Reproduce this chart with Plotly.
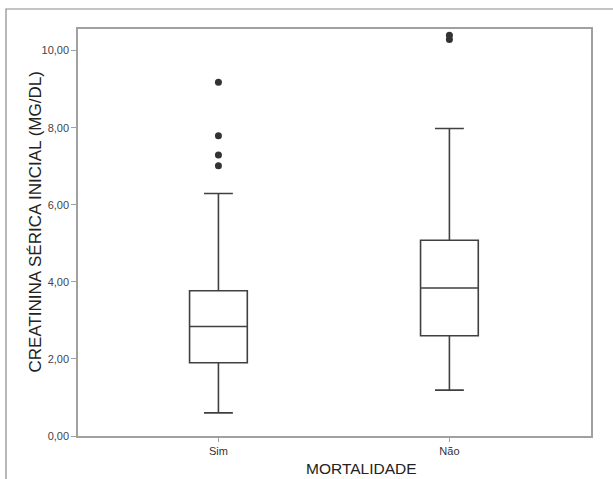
import plotly.graph_objects as go

categories = ["Sim", "Não"]
lower_whisker = [0.60, 1.19]
q1 = [1.90, 2.60]
median = [2.84, 3.84]
q3 = [3.77, 5.08]
upper_whisker = [6.29, 7.98]

outlier_cat = ["Sim", "Sim", "Sim", "Sim", "Não", "Não"]
outlier_val = [9.18, 7.79, 7.29, 7.01, 10.40, 10.29]

y_ticks = [0, 2, 4, 6, 8, 10]

x_title = "MORTALIDADE"
y_title = "CREATININA SÉRICA INICIAL (MG/DL)"

W, H = 613, 479
L, R, T, B = 78, 591, 29, 436
pw = R - L
ph = B - T

fig = go.Figure()
fig.add_trace(go.Box(
    x=categories, q1=q1, median=median, q3=q3,
    lowerfence=lower_whisker, upperfence=upper_whisker,
    width=0.25, whiskerwidth=0.5,
    fillcolor="white",
    line=dict(color="#404040", width=1.6),
    boxpoints=False, showlegend=False, hoverinfo="skip",
))
fig.add_trace(go.Scatter(
    x=outlier_cat, y=outlier_val, mode="markers",
    marker=dict(color="#333333", size=7),
    showlegend=False, hoverinfo="skip",
))

fig.add_shape(type="rect", xref="paper", yref="paper",
              x0=(6 - L) / pw, x1=(W + 20 - L) / pw,
              y0=-(H + 20 - B) / ph, y1=1 + (T - 9) / ph,
              line=dict(color="#8a8a8a", width=1.2), fillcolor="rgba(0,0,0,0)",
              layer="below")

fig.add_annotation(text=x_title, xref="paper", yref="paper",
                   x=(361 - L) / pw, y=(B - 468) / ph,
                   xanchor="center", yanchor="middle", showarrow=False,
                   font=dict(size=15.5, color="#222222"))
fig.add_annotation(text=y_title, xref="paper", yref="paper",
                   x=(35 - L) / pw, y=(B - 222.5) / ph, textangle=-90,
                   xanchor="center", yanchor="middle", showarrow=False,
                   font=dict(size=17, color="#222222"))

fig.update_layout(
    width=W, height=H,
    margin=dict(l=L, r=W - R, t=T, b=H - B),
    paper_bgcolor="white", plot_bgcolor="white",
    separators=",.",
    font=dict(family="Liberation Sans, Arial, sans-serif", color="#333333"),
    xaxis=dict(
        type="category", categoryorder="array", categoryarray=categories,
        range=[-0.608, 1.613], automargin=False,
        showline=True, mirror=True, linecolor="#a0a0a0", linewidth=1.5,
        ticks="outside", ticklen=4, tickcolor="#a0a0a0", tickwidth=1,
        showgrid=False, zeroline=False,
        tickfont=dict(size=11, color="#333333"),
    ),
    yaxis=dict(
        range=[0, 10.56], automargin=False,
        tickvals=y_ticks, tickformat=".2f",
        showline=True, mirror=True, linecolor="#a0a0a0", linewidth=1.5,
        ticks="outside", ticklen=5, tickcolor="#a0a0a0", tickwidth=1,
        showgrid=False, zeroline=False,
        tickfont=dict(size=11, color="#444444"),
    ),
)

fig.write_html("out.html", config={"displayModeBar": False},
               post_script="document.body.style.margin='0';document.body.style.overflow='hidden';")
